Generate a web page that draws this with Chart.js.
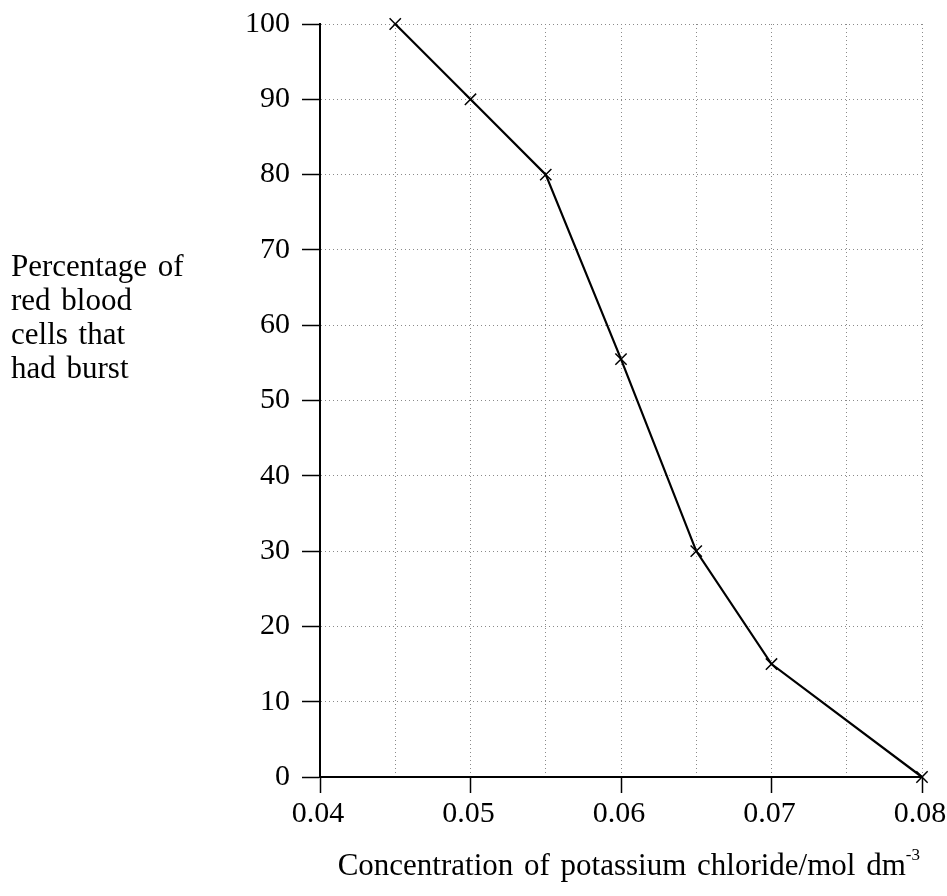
<!DOCTYPE html>
<html>
<head>
<meta charset="utf-8">
<script src="https://cdn.jsdelivr.net/npm/chart.js@4.4.0/dist/chart.umd.min.js"></script>
<style>
  html, body { margin: 0; padding: 0; background: #fff; }
  #wrap { position: relative; width: 947px; height: 896px; font-family: "Liberation Serif", "DejaVu Serif", serif; color: #000; }
  #chart { position: absolute; left: 0; top: 0; }
  .ytitle { position: absolute; left: 11px; top: 249px; font-size: 31px; line-height: 34px; word-spacing: 3px; }
  .xtitle { position: absolute; right: 27px; top: 849px; font-size: 31px; line-height: 31px; white-space: nowrap; word-spacing: 3px; }
  .xtitle sup { font-size: 17px; vertical-align: 15px; line-height: 0; }
</style>
</head>
<body>
<div id="wrap">
  <canvas id="chart" width="947" height="896"></canvas>
  <div class="ytitle">Percentage of<br>red blood<br>cells that<br>had burst</div>
  <div class="xtitle">Concentration of potassium chloride/mol dm<sup>-3</sup></div>
</div>
<script>
// concentration of KCl (mol dm-3) and % of red blood cells that burst
const concentrations = [0.045, 0.05, 0.055, 0.06, 0.065, 0.07, 0.08];
const percentBurst = [100, 90, 80, 55.5, 30, 15, 0];
const xTickLabels = ['0.04', '0.05', '0.06', '0.07', '0.08'];

const isMajorX = v => Math.abs(Math.round(v * 100) - v * 100) < 1e-6;

new Chart(document.getElementById('chart'), {
  type: 'line',
  data: {
    datasets: [{
      data: concentrations.map((c, i) => ({ x: c, y: percentBurst[i] })),
      borderColor: '#000',
      borderWidth: 2.2,
      pointStyle: 'crossRot',
      pointRadius: 8,
      pointBorderWidth: 1.5,
      pointBorderColor: '#000',
      tension: 0,
      fill: false,
      clip: false
    }]
  },
  options: {
    responsive: false,
    animation: false,
    layout: { padding: { top: 24, right: 25 } },
    plugins: { legend: { display: false }, tooltip: { enabled: false } },
    scales: {
      x: {
        type: 'linear',
        min: 0.04,
        max: 0.08,
        afterFit: s => {
          s.height = 119;
          // let the last tick label hang over the edge as in the original
          s.paddingLeft = 0;
          s.paddingRight = 0;
        },
        afterBuildTicks: s => {
          s.ticks = [];
          for (let i = 0; i <= 8; i++) s.ticks.push({ value: +(0.04 + i * 0.005).toFixed(3) });
        },
        ticks: {
          color: '#000',
          font: { family: 'Liberation Serif', size: 30 },
          padding: 3,
          labelOffset: -2,
          maxRotation: 0,
          autoSkip: false,
          callback: v => {
            const lbl = v.toFixed(2);
            return isMajorX(v) && xTickLabels.includes(lbl) ? lbl : '';
          }
        },
        grid: {
          color: ctx => (ctx.tick && ctx.tick.value > 0.04 ? '#8a8a8a' : 'transparent'),
          lineWidth: 1,
          tickLength: 16,
          tickColor: ctx => (ctx.tick && isMajorX(ctx.tick.value) ? '#000' : 'transparent'),
          tickBorderDash: [],
          tickWidth: 1.5
        },
        border: { display: true, color: '#000', width: 2, dash: [1, 3] }
      },
      y: {
        min: 0,
        max: 100,
        afterFit: s => {
          s.width = 320;
          s.paddingTop = 0;
          s.paddingBottom = 0;
        },
        ticks: {
          stepSize: 10,
          color: '#000',
          font: { family: 'Liberation Serif', size: 30 },
          padding: 12
        },
        grid: {
          color: ctx => (ctx.tick && ctx.tick.value > 0 ? '#8a8a8a' : 'transparent'),
          lineWidth: 1,
          tickLength: 18,
          tickColor: '#000',
          tickBorderDash: [],
          tickWidth: 1.5
        },
        border: { display: true, color: '#000', width: 2, dash: [1, 3] }
      }
    }
  }
});
</script>
</body>
</html>
